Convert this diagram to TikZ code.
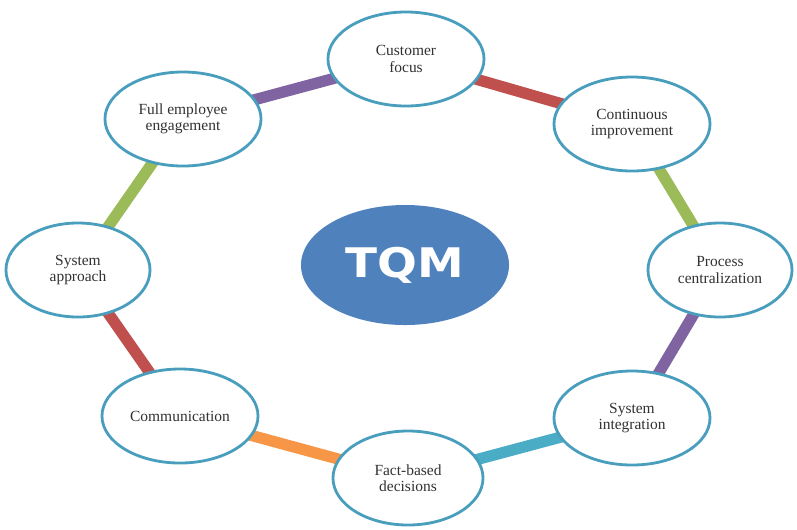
\documentclass[tikz,border=0pt]{standalone}
\usepackage{fontspec}
\setmainfont{Liberation Serif}
\newfontfamily\hubfont[FakeStretch=1.15]{DejaVu Sans}
\usetikzlibrary{shapes.geometric,backgrounds}

\definecolor{rimblue}{RGB}{72,158,188}
\definecolor{hubblue}{RGB}{79,129,189}
\definecolor{bandred}{RGB}{192,80,77}
\definecolor{bandgreen}{RGB}{155,187,89}
\definecolor{bandpurple}{RGB}{128,100,162}
\definecolor{bandcyan}{RGB}{75,172,198}
\definecolor{bandorange}{RGB}{247,150,70}
\definecolor{inktext}{RGB}{50,50,50}

\begin{document}
\begin{tikzpicture}[x=0.025cm,y=-0.025cm,
    principle/.style={ellipse,draw=rimblue,line width=2pt,fill=white,
        minimum width=3.9cm,minimum height=2.35cm,inner sep=0pt,
        align=center,text=inktext,font=\fontsize{11}{11.5}\selectfont},
    band/.style={line width=8pt}]
    \useasboundingbox (0,0) rectangle (797,529);

    \path (405, 265) node [ellipse,fill=hubblue,minimum width=5.2cm,minimum height=3cm,
        text=white,font=\hubfont\bfseries\fontsize{29}{29}\selectfont] (tqm) {TQM};

    \path (406,  59) node [principle] (customer) {Customer\\focus};
    \path (632, 124) node [principle] (improve) {Continuous\\improvement};
    \path (720, 270) node [principle,minimum width=3.6cm] (process) {Process\\centralization};
    \path (632, 418) node [principle] (integrate) {System\\integration};
    \path (408, 478) node [principle,minimum width=3.75cm] (facts) {Fact-based\\decisions};
    \path (180, 416) node [principle] (comm) {Communication};
    \path ( 78, 270) node [principle,minimum width=3.6cm] (approach) {System\\approach};
    \path (183, 119) node [principle] (staff) {Full employee\\engagement};

    % ring of coloured bands behind the ellipses
    \begin{scope}[on background layer]
        \draw [band,bandred]    (customer.center)  -- (improve.center);
        \draw [band,bandgreen]  (improve.center)   -- (process.center);
        \draw [band,bandpurple] (process.center)   -- (integrate.center);
        \draw [band,bandcyan]   (integrate.center) -- (facts.center);
        \draw [band,bandorange] (facts.center)     -- (comm.center);
        \draw [band,bandred]    (comm.center)      -- (approach.center);
        \draw [band,bandgreen]  (approach.center)  -- (staff.center);
        \draw [band,bandpurple] (staff.center)     -- (customer.center);
    \end{scope}
\end{tikzpicture}
\end{document}
